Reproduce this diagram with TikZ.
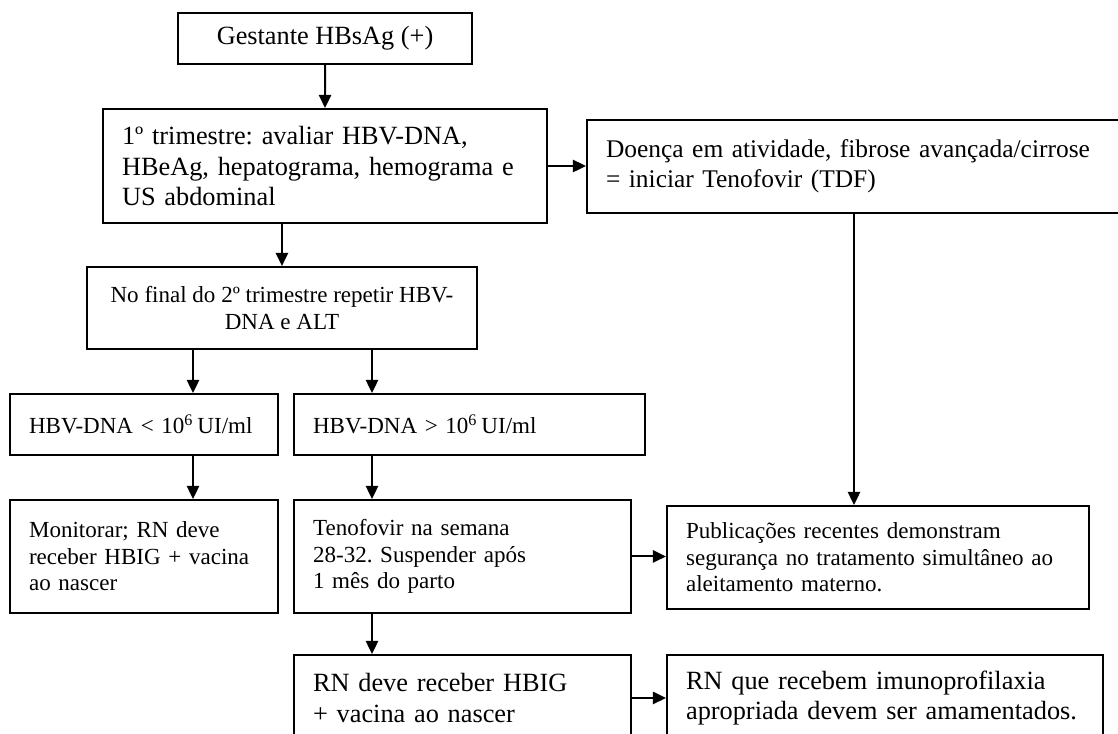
\documentclass[tikz,border=0pt]{standalone}
\usepackage{fontspec}
\setmainfont{Liberation Serif}
\usetikzlibrary{positioning,arrows.meta,calc}
\frenchspacing
\newcommand{\bigtxt}{\fontsize{12}{13.8}\selectfont}
\newcommand{\midtxt}{\fontsize{11.6}{13.8}\selectfont}
\newcommand{\smalltxt}{\fontsize{10.5}{12.1}\selectfont}

\begin{document}
\begin{tikzpicture}[x=0.456pt,y=-0.456pt,
	box/.style={rectangle,draw,line width=0.9pt,inner xsep=8.7pt,inner ysep=0pt,
		align=left,anchor=north west},
	arr/.style={line width=0.9pt,-{Triangle[length=6pt,width=5.6pt]}}]
			\clip (0,0) rectangle (1118,734);
			% columns of the arrows
			\coordinate (colL) at (193,0);
			\coordinate (colR) at (372,0);
			\coordinate (colT) at (854,0);
			\node [box,align=center,minimum width=134.1pt,minimum height=23.3pt,font=\bigtxt,
			name = gest] at (177,12) {Gestante HBsAg (+)};
			\node [box,text width=185.1pt,minimum height=52pt,font=\bigtxt,
			name = trim] at (102,108) {1º trimestre: avaliar HBV-DNA,\\HBeAg, hepatograma, hemograma e\\US abdominal};
			\node [box,text width=227.5pt,minimum height=42.4pt,font=\midtxt,
			name = doenca] at (586,119) {Doença em atividade, fibrose avançada/cirrose\\= iniciar Tenofovir (TDF)};
			\node [box,align=center,minimum width=177.8pt,minimum height=37.4pt,font=\smalltxt,
			name = final] at (86,266) {No final do 2º trimestre repetir HBV-\\DNA e ALT};
			\node [box,text width=104.8pt,minimum height=27.8pt,font=\smalltxt,
			name = baixo] at (9,393) {HBV-DNA < 10\textsuperscript{6}\,UI/ml};
			\node [box,text width=142.7pt,minimum height=27.8pt,font=\smalltxt,
			name = alto] at (293,393) {HBV-DNA > 10\textsuperscript{6}\,UI/ml};
			\node [box,text width=104.8pt,minimum height=51.5pt,font=\smalltxt,
			name = monit] at (9,499) {Monitorar; RN deve\\receber HBIG + vacina\\ao nascer};
			\node [box,text width=136.3pt,minimum height=51.5pt,font=\smalltxt,
			name = teno] at (293,499) {Tenofovir na semana\\28-32. Suspender após\\1 mês do parto};
			\node [box,text width=175pt,minimum height=47pt,font=\smalltxt,
			name = pub] at (666,505) {Publicações recentes demonstram\\segurança no tratamento simultâneo ao\\aleitamento materno.};
			\node [box,text width=136.3pt,minimum height=39.2pt,font=\bigtxt,
			name = rn] at (293,654) {RN deve receber HBIG\\+ vacina ao nascer};
			\node [box,text width=181.4pt,minimum height=39.2pt,font=\bigtxt,
			name = amam] at (666,654) {RN que recebem imunoprofilaxia\\apropriada devem ser amamentados.};
			\draw [arr] (gest.south) -- (trim.north);
			\draw [arr] (trim.east) -- (trim.east -| doenca.west);
			\draw [arr] (trim.south -| final.north) -- (final.north);
			\draw [arr] (final.south -| colL) -- (baixo.north -| colL);
			\draw [arr] (final.south -| colR) -- (alto.north -| colR);
			\draw [arr] (baixo.south -| colL) -- (monit.north -| colL);
			\draw [arr] (alto.south -| colR) -- (teno.north -| colR);
			\draw [arr] (teno.south -| colR) -- (rn.north -| colR);
			\draw [arr] (doenca.south -| colT) -- (pub.north -| colT);
			\draw [arr] (teno.east) -- (teno.east -| pub.west);
			\draw [arr] (rn.east) -- (rn.east -| amam.west);
		\end{tikzpicture}
\end{document}
